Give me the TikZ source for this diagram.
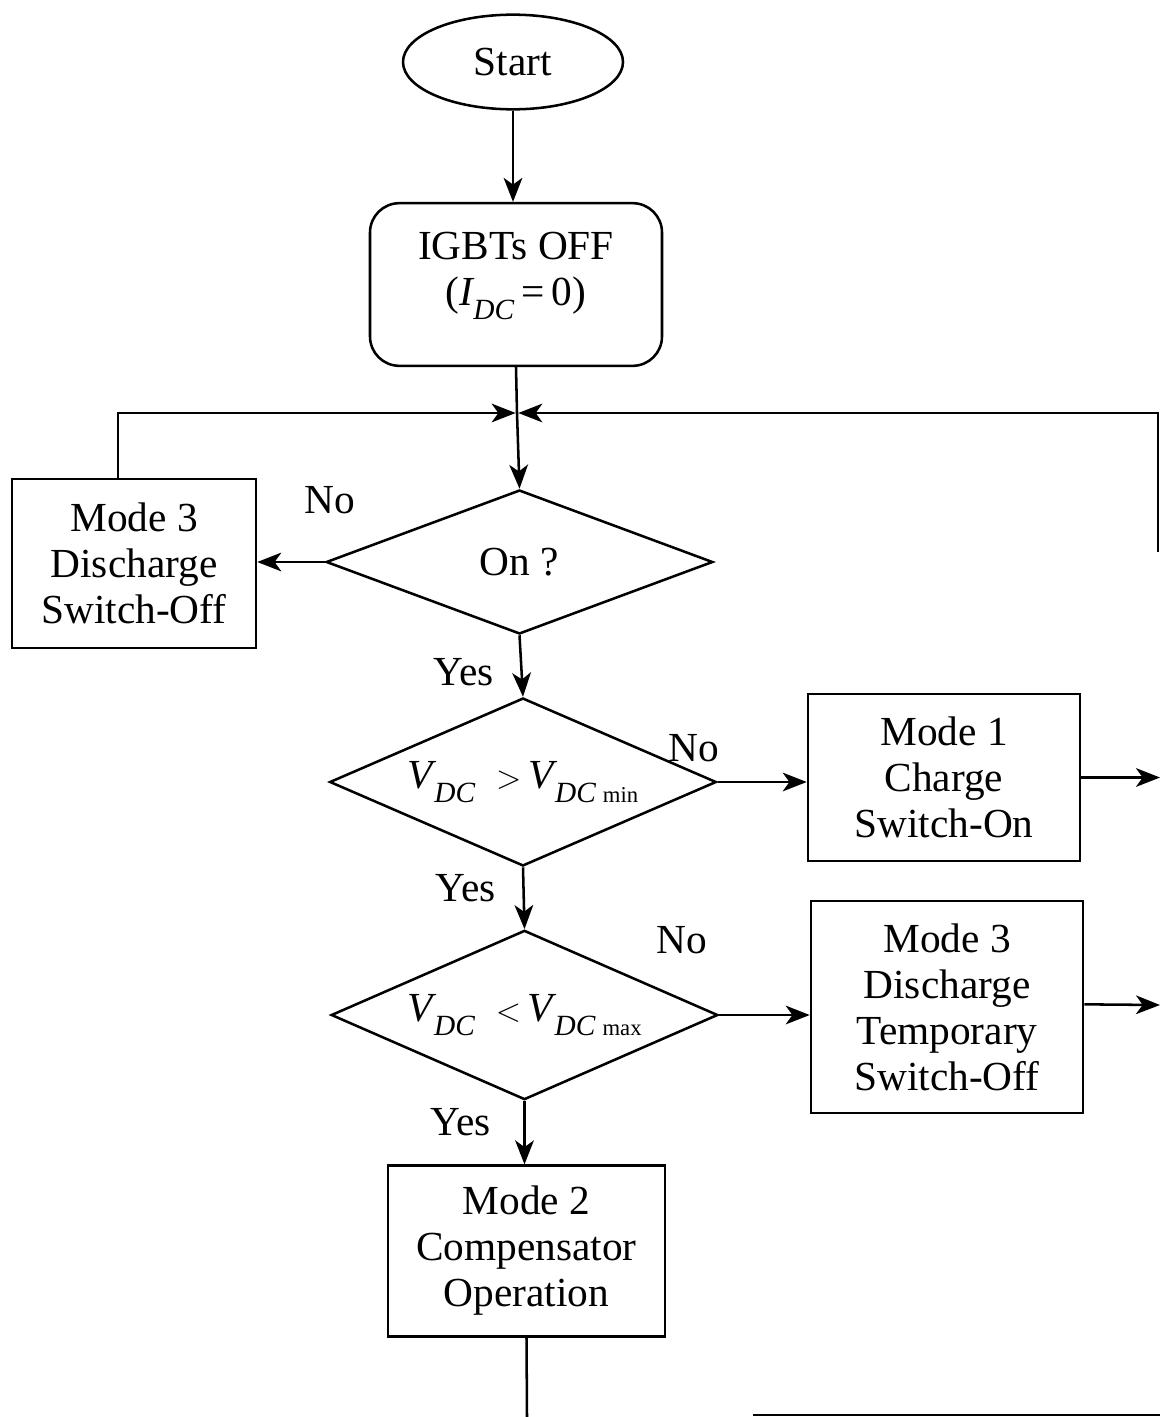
\documentclass[tikz,border=0pt]{standalone}
\usepackage{fontspec}
\setmainfont{Liberation Serif}
\usetikzlibrary{shapes.geometric,arrows.meta}
% subscripts set by hand so they stay in the text face
\newcommand{\lowsub}[2]{\raisebox{-0.34em}{\fontsize{#1}{#1}\selectfont #2}}
\newcommand{\VDC}{\textit{V}\kern-0.06em\lowsub{22}{\textit{DC}}}
\begin{document}
\begin{tikzpicture}[x=0.75pt,y=-0.75pt,
  base/.style={draw, line width=1.9pt, font=\fontsize{31}{34.5}\selectfont,
               align=center, inner sep=0pt},
  procbox/.style={base, rectangle},
  decide/.style={base, diamond, shape aspect=2.3},
  lbl/.style={font=\fontsize{31}{34.5}\selectfont, inner sep=0pt},
  flow/.style={line width=1.9pt, -{Stealth[length=18pt,width=14pt,inset=5pt]}},
  wire/.style={line width=1.9pt}]
\useasboundingbox (0,0) rectangle (1160,1417);

% nodes
\node[base, ellipse, minimum width=165pt, minimum height=71pt] (start) at (513,62) {Start};
\node[procbox, rounded corners=22pt, minimum width=219pt, minimum height=122pt,
      text depth=23pt] (igbt) at (516,284.5)
  {IGBTs OFF\\(\textit{I}\kern-0.04em\lowsub{22}{\textit{DC}}\,=\,0)};
\node[decide, minimum width=290pt, minimum height=108pt] (on) at (519.5,562) {On ?};
\node[procbox, minimum width=183pt, minimum height=127pt] (m3a) at (134,563.5)
  {Mode 3\\Discharge\\Switch-Off};
\node[decide, minimum width=290pt, minimum height=126pt] (vmin) at (523,782)
  {\VDC\enspace$>$\,\VDC\,\lowsub{17}{min}};
\node[procbox, minimum width=204pt, minimum height=125pt] (m1) at (944,777.5)
  {Mode 1\\Charge\\Switch-On};
\node[decide, minimum width=290pt, minimum height=127pt] (vmax) at (524.5,1015)
  {\VDC\enspace$<$\,\VDC\,\lowsub{17}{max}};
\node[procbox, minimum width=204pt, minimum height=159pt] (m3b) at (947,1007)
  {Mode 3\\Discharge\\Temporary\\Switch-Off};
\node[procbox, minimum width=208pt, minimum height=128pt] (m2) at (526.5,1251)
  {Mode 2\\Compensator\\Operation};

% branch labels
\node[lbl] (no1) at (330,500) {No};
\node[lbl] (yes1) at (464,672) {Yes};
\node[lbl] (no2) at (694,748) {No};
\node[lbl] (yes2) at (466,888) {Yes};
\node[lbl] (no3) at (682,940) {No};
\node[lbl] (yes3) at (461,1122) {Yes};

% junction and free ends
\coordinate (j) at (517,413);
\coordinate (rtop) at (1158,413);
\coordinate (rbot) at (1158,552);
\coordinate (out1) at (1160,777.5);
\coordinate (out3) at (1160,1005);
\coordinate (bot) at (527,1417);
\coordinate (bl) at (753,1415);
\coordinate (br) at (1160,1415);

% connectors
\draw[flow] (start.south) -- (start.south |- igbt.north);
\draw[wire] (igbt.south) -- (j);
\draw[flow] (j) -- (on.north);
\draw[flow] (on.west) -- (m3a.east |- on.west);
\draw[flow] ([xshift=-12pt]m3a.north) |- ([xshift=-1pt]j);
\draw[flow] (rbot) -- (rtop) -- ([xshift=1pt]j);
\draw[flow] (on.south) -- (vmin.north);
\draw[flow] (vmin.east) -- (m1.west |- vmin.east);
\draw[flow] (m1.east) -- (out1);
\draw[flow] (vmin.south) -- (vmax.north);
\draw[flow] (vmax.east) -- (m3b.west |- vmax.east);
\draw[flow] ([yshift=2pt]m3b.east) -- (out3);
\draw[flow] (vmax.south) -- (vmax.south |- m2.north);
\draw[wire] (m2.south) -- (bot);
\draw[wire] (bl) -- (br);
\end{tikzpicture}
\end{document}
